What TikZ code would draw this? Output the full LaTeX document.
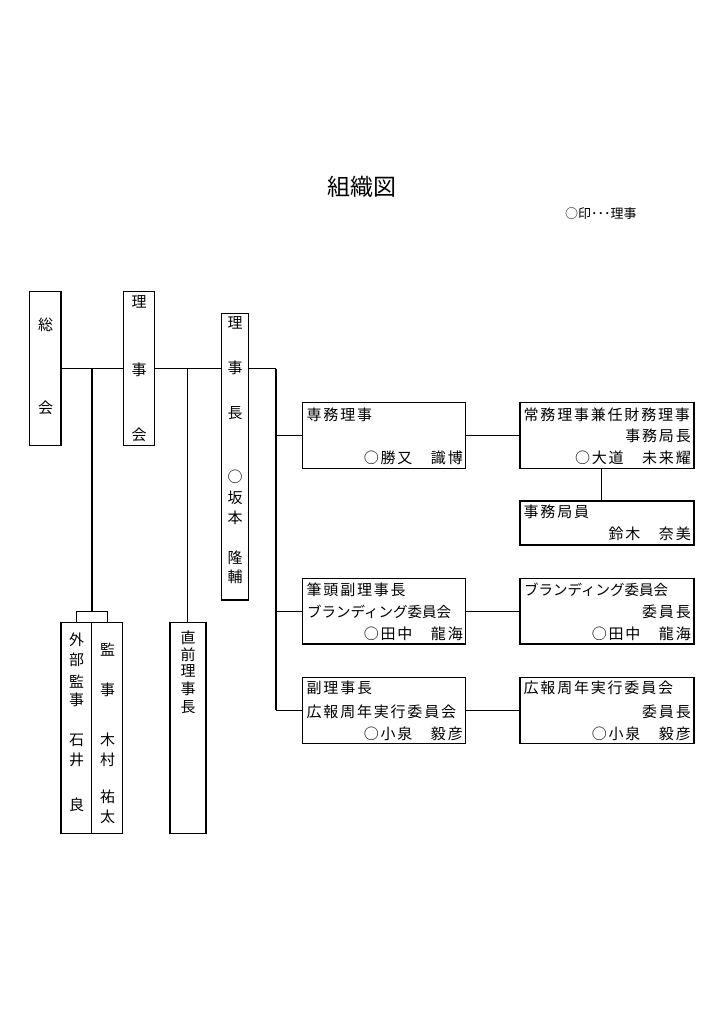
\documentclass[tikz,border=0pt]{standalone}
\usepackage{fontspec}
\setmainfont{Noto Sans CJK JP}
\newfontfamily\jpfont{Noto Sans CJK JP}
\newfontfamily\jpls[LetterSpace=12]{Noto Sans CJK JP}
\begin{document}
\begin{tikzpicture}[x=1pt,y=-1pt,
  ln/.style={line width=1.2pt},
  htxt/.style={inner sep=0pt,font=\jpls\fontsize{15}{15}\selectfont},
  htxtn/.style={inner sep=0pt,font=\jpfont\fontsize{14.5}{15}\selectfont},
  vch/.style={inner sep=0pt,font=\jpfont\fontsize{15}{15}\selectfont}]
\useasboundingbox[fill=white] (0,0) rectangle (725,1024);

% title
\node[inner sep=0pt,font=\jpfont\fontsize{23}{23}\selectfont] (title) at (362,187) {組織図};
\node[inner sep=0pt,font=\jpfont\fontsize{13}{13}\selectfont,anchor=west] (legend) at (565,214) {○印･･･理事};

% vertical boxes
\node[draw,line width=1.2pt,inner sep=0pt,minimum width=31.7pt,minimum height=154pt] (sokai) at (45.2,368.7) {};
\node[draw,line width=1.2pt,inner sep=0pt,minimum width=31pt,minimum height=154pt] (rijikai) at (138.8,368.7) {};
\node[draw,line width=1.2pt,inner sep=0pt,minimum width=27.4pt,minimum height=286.7pt] (rijicho) at (235,456.7) {};
\node[draw,line width=1.2pt,inner sep=0pt,minimum width=30.7pt,minimum height=211pt] (gaibu) at (76.3,727.8) {};
\node[draw,line width=1.2pt,inner sep=0pt,minimum width=31pt,minimum height=211pt] (kanji) at (107.2,727.8) {};
\node[draw,line width=1.2pt,inner sep=0pt,minimum width=36pt,minimum height=211pt] (chokuzen) at (188,727.8) {};

% vertical texts
\foreach \y/\c [count=\i] in {325/総,408/会}
  \node[vch] (sk\i) at (45.5,\y) {\c};
\foreach \y/\c [count=\i] in {302/理,370/事,435/会}
  \node[vch] (rk\i) at (139,\y) {\c};
\foreach \y/\c [count=\i] in {323/理,368/事,413/長,477/○,498/坂,518/本,558/隆,577/輔}
  \node[vch] (rc\i) at (235,\y) {\c};
\foreach \y/\c [count=\i] in {640/外,660/部,682/監,700/事,740/石,760/井,805/良}
  \node[vch] (gb\i) at (76.5,\y) {\c};
\foreach \y/\c [count=\i] in {650/監,690/事,740/木,760/村,797/祐,817/太}
  \node[vch] (kj\i) at (107.5,\y) {\c};
\foreach \y/\c [count=\i] in {638/直,655/前,671/理,689/事,707/長}
  \node[vch] (cz\i) at (188,\y) {\c};

% horizontal boxes
\node[draw,line width=1.2pt,inner sep=0pt,minimum width=163pt,minimum height=66pt] (senmu) at (384.2,435.3) {};
\node[draw,line width=1.2pt,inner sep=0pt,minimum width=174pt,minimum height=66pt] (jomu) at (607,435.3) {};
\node[draw,line width=1.2pt,inner sep=0pt,minimum width=174pt,minimum height=44pt] (jimuin) at (607,523) {};
\node[draw,line width=1.2pt,inner sep=0pt,minimum width=163pt,minimum height=65.7pt] (hitto) at (384.2,611.2) {};
\node[draw,line width=1.2pt,inner sep=0pt,minimum width=174pt,minimum height=65.7pt] (brand) at (607,611.2) {};
\node[draw,line width=1.2pt,inner sep=0pt,minimum width=163pt,minimum height=66pt] (fuku) at (384.2,710.3) {};
\node[draw,line width=1.2pt,inner sep=0pt,minimum width=174pt,minimum height=66pt] (koho) at (607,710.3) {};

% horizontal texts
\node[htxt,anchor=west] (senmu1) at (306.5,415) {専務理事};
\node[htxt,anchor=east] (senmu3) at (463,458) {○勝又　識博};
\node[htxt,anchor=west] (jomu1) at (523.5,415) {常務理事兼任財務理事};
\node[htxt,anchor=east] (jomu2) at (691,436) {事務局長};
\node[htxt,anchor=east] (jomu3) at (691,458) {○大道　未来耀};
\node[htxt,anchor=west] (jimuin1) at (523.5,512) {事務局員};
\node[htxt,anchor=east] (jimuin2) at (691,534) {鈴木　奈美};
\node[htxt,anchor=west] (hitto1) at (306.5,590) {筆頭副理事長};
\node[htxtn,anchor=west] (hitto2) at (307,611.7) {ブランディング委員会};
\node[htxt,anchor=east] (hitto3) at (463,633.3) {○田中　龍海};
\node[htxtn,anchor=west] (brand1) at (524,590) {ブランディング委員会};
\node[htxt,anchor=east] (brand2) at (691,611.7) {委員長};
\node[htxt,anchor=east] (brand3) at (691,633.3) {○田中　龍海};
\node[htxt,anchor=west] (fuku1) at (306.5,688.3) {副理事長};
\node[htxt,anchor=west] (fuku2) at (306.5,711.7) {広報周年実行委員会};
\node[htxt,anchor=east] (fuku3) at (463,733.3) {○小泉　毅彦};
\node[htxt,anchor=west] (koho1) at (523.5,688.3) {広報周年実行委員会};
\node[htxt,anchor=east] (koho2) at (691,711.7) {委員長};
\node[htxt,anchor=east] (koho3) at (691,733.3) {○小泉　毅彦};

% connector coordinates
\coordinate (j1) at (92,368.7);
\coordinate (j2) at (187.8,368.7);
\coordinate (br) at (276,368.7);
\coordinate (brk) at (92,611.7);
\coordinate (vj) at (601.7,0);

% connectors
\draw[ln] (sokai.east) -- (rijikai.west);
\draw[ln] (rijikai.east) -- (rijicho.west |- rijikai.east);
\draw[ln] (rijicho.east |- br) -- (br);
\draw[ln] (j1) -- (brk);
\draw[ln] (gaibu.north) |- (brk) -| (kanji.north);
\draw[ln] (j2) -- (j2 |- chokuzen.north);
\draw[ln] (br) -- (br |- fuku.west);
\draw[ln] (br |- senmu.west) -- (senmu.west);
\draw[ln] (br |- hitto.west) -- (hitto.west);
\draw[ln] (br |- fuku.west) -- (fuku.west);
\draw[ln] (senmu.east) -- (jomu.west);
\draw[ln] (hitto.east) -- (brand.west);
\draw[ln] (fuku.east) -- (koho.west);
\draw[ln] (vj |- jomu.south) -- (vj |- jimuin.north);
\end{tikzpicture}
\end{document}
